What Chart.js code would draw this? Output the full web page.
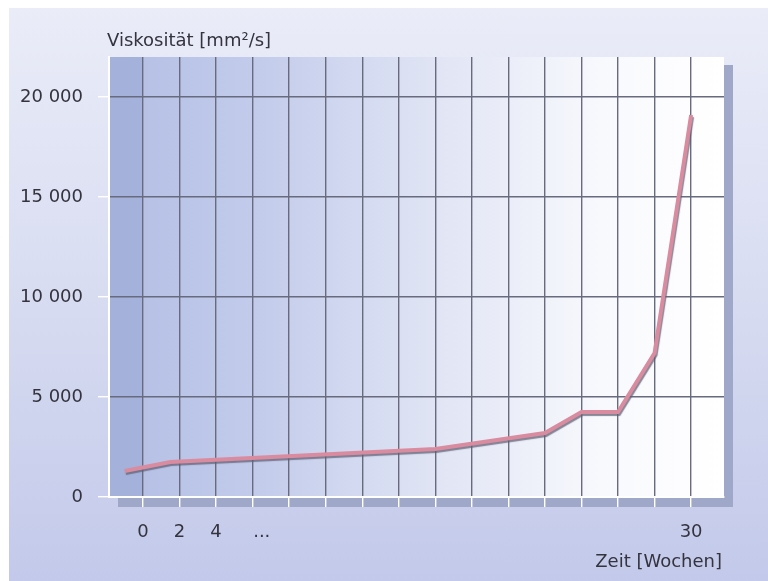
<!DOCTYPE html>
<html lang="de">
<head>
    <meta charset="UTF-8">
    <title>Viskosität über Zeit</title>
    <script src="https://cdn.jsdelivr.net/npm/chart.js"></script>
    <style>
        body {
            margin: 0;
            background: #ffffff;
        }

        /* scanned page background */
        .page {
            position: relative;
            width: 768px;
            height: 581px;
            overflow: hidden;
        }

        .page-bg {
            position: absolute;
            left: 9px;
            top: 8px;
            right: 0;
            bottom: 0;
            background: linear-gradient(180deg, #eaecf8 0%, #dadef2 45%, #c3c9ea 100%);
        }

        canvas {
            position: absolute;
            left: 0;
            top: 0;
        }
    </style>
</head>
<body>

    <div class="page">
        <div class="page-bg"></div>
        <canvas id="viscChart" width="768" height="581"></canvas>
    </div>

    <script>
        // measured points (Zeit in Wochen / Viskosität in mm²/s)
        const weeks = [-1, 1.5, 16, 22, 24, 26, 28, 30];
        const viscosity = [1300, 1750, 2400, 3200, 4250, 4250, 7200, 19100];

        // vertical grid lines, every 2 weeks
        const gridWeeks = [0, 2, 4, 6, 8, 10, 12, 14, 16, 18, 20, 22, 24, 26, 28, 30];
        // x tick labels (only a few are written out)
        const labelWeeks = [0, 2, 4, 6.5, 30];
        const labelTexts = ["0", "2", "4", "...", "30"];

        const yTicks = [0, 5000, 10000, 15000, 20000];

        const GRID = "#676b7d";
        const TEXT = "#34343e";
        const FONT = "'DejaVu Sans', sans-serif";

        function fmt(v) {
            return v >= 1000 ? Math.floor(v / 1000) + " " + String(v % 1000).padStart(3, "0") : String(v);
        }

        // shadow + gradient panel behind the grid, axis titles on top
        const panelPlugin = {
            id: "panel",
            beforeDraw(chart) {
                const { ctx, chartArea: a } = chart;
                ctx.save();
                ctx.fillStyle = "#a0a8ca";
                ctx.fillRect(a.left + 9, a.top + 8, a.right - a.left, a.bottom - a.top + 2);

                let g = ctx.createLinearGradient(a.left, 0, a.right, 0);
                g.addColorStop(0, "#b3bee4");
                g.addColorStop(0.25, "#c3cceb");
                g.addColorStop(0.55, "#e2e6f5");
                g.addColorStop(0.8, "#f8f9fd");
                g.addColorStop(1, "#ffffff");
                ctx.fillStyle = g;
                ctx.fillRect(a.left, a.top, a.right - a.left, a.bottom - a.top);

                // darker first column
                const x0 = chart.scales.x.getPixelForValue(0);
                ctx.fillStyle = "rgba(150,166,212,0.55)";
                ctx.fillRect(a.left, a.top, x0 - a.left, a.bottom - a.top);
                ctx.restore();
            },
            beforeDatasetDraw(chart) {
                const ctx = chart.ctx;
                ctx.save();
                ctx.shadowColor = "rgba(95,95,115,0.75)";
                ctx.shadowOffsetX = 1;
                ctx.shadowOffsetY = 2;
                ctx.shadowBlur = 1;
            },
            afterDatasetDraw(chart) {
                chart.ctx.restore();
            },
            afterDraw(chart) {
                const { ctx, chartArea: a } = chart;
                ctx.save();
                ctx.fillStyle = TEXT;
                ctx.font = "18px " + FONT;
                ctx.textBaseline = "middle";
                ctx.textAlign = "left";
                ctx.fillText("Viskosität [mm²/s]", a.left - 2, 41);
                ctx.textAlign = "right";
                ctx.fillText("Zeit [Wochen]", a.right - 2, 562);
                ctx.restore();
            }
        };

        const ctx = document.getElementById("viscChart").getContext("2d");
        new Chart(ctx, {
            type: "line",
            data: {
                datasets: [{
                    label: "Viskosität",
                    data: weeks.map((w, i) => ({ x: w, y: viscosity[i] })),
                    borderColor: "#d98b9f",
                    borderWidth: 4,
                    pointRadius: 0,
                    tension: 0,
                    fill: false
                }]
            },
            options: {
                responsive: false,
                animation: false,
                layout: { padding: { top: 57, right: 44, left: 0, bottom: 0 } },
                plugins: {
                    legend: { display: false },
                    tooltip: { enabled: false }
                },
                scales: {
                    x: {
                        type: "linear",
                        min: -1.86,
                        max: 31.8,
                        afterBuildTicks(scale) {
                            const t = gridWeeks.map(v => ({ value: v }));
                            t.push({ value: 6.5 });
                            scale.ticks = t;
                        },
                        afterFit(scale) { scale.height = 84; },
                        grid: {
                            color: c => (c.tick && c.tick.value === 6.5) ? "rgba(0,0,0,0)" : GRID,
                            tickColor: c => (c.tick && c.tick.value === 6.5) ? "rgba(0,0,0,0)" : "#ffffff",
                            lineWidth: 1.4,
                            tickLength: 10
                        },
                        border: { display: true, color: "#ffffff", width: 2 },
                        ticks: {
                            color: TEXT,
                            font: { family: FONT, size: 18 },
                            padding: 15,
                            maxRotation: 0,
                            autoSkip: false,
                            callback: v => {
                                const i = labelWeeks.indexOf(v);
                                return i >= 0 ? labelTexts[i] : "";
                            }
                        }
                    },
                    y: {
                        min: 0,
                        max: 22000,
                        afterBuildTicks(scale) {
                            scale.ticks = yTicks.map(v => ({ value: v }));
                        },
                        afterFit(scale) { scale.width = 109; },
                        grid: {
                            color: c => (c.tick && c.tick.value === 0) ? "rgba(0,0,0,0)" : GRID,
                            tickColor: "#ffffff",
                            lineWidth: 1.4,
                            tickLength: 11
                        },
                        border: { display: true, color: "#ffffff", width: 2 },
                        ticks: {
                            color: TEXT,
                            font: { family: FONT, size: 18 },
                            padding: 15,
                            callback: v => fmt(v)
                        }
                    }
                }
            },
            plugins: [panelPlugin]
        });
    </script>

</body>
</html>
